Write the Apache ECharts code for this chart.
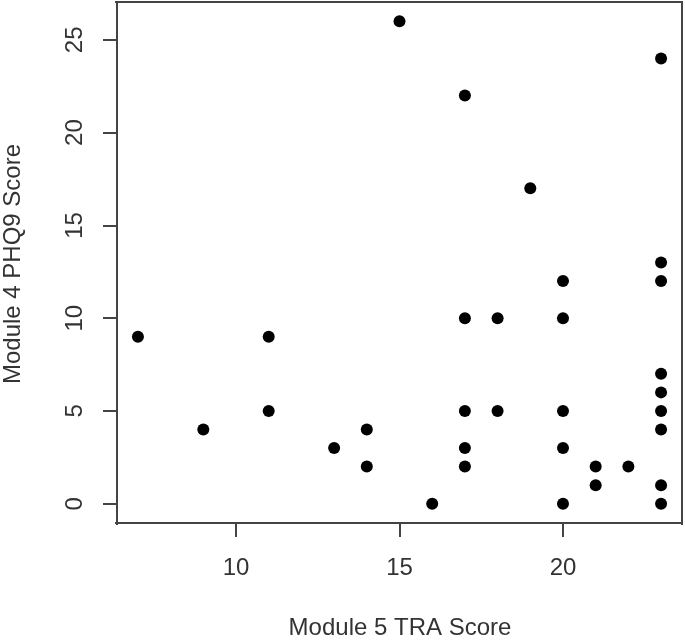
<!DOCTYPE html>
<html>
<head>
<meta charset="utf-8">
<script src="https://cdn.jsdelivr.net/npm/echarts@6/dist/echarts.min.js"></script>
<style>
html,body{margin:0;padding:0;background:#fff;}
#chart{width:685px;height:642px;}
</style>
</head>
<body>
<div id="chart"></div>
<script>
// Data
const traScore = [7, 9, 11, 11, 13, 14, 14, 15, 16, 17, 17, 17, 17, 17, 18, 18, 19, 20, 20, 20, 20, 20, 21, 21, 22, 23, 23, 23, 23, 23, 23, 23, 23, 23];
const phq9Score = [9, 4, 9, 5, 3, 4, 2, 26, 0, 22, 10, 5, 3, 2, 10, 5, 17, 12, 10, 5, 3, 0, 2, 1, 2, 24, 13, 12, 7, 6, 5, 4, 1, 0];
const xTickLabels = ['10', '15', '20'];
const yTickLabels = ['0', '5', '10', '15', '20', '25'];
const xTitle = 'Module 5 TRA Score';
const yTitle = 'Module 4 PHQ9 Score';

const points = traScore.map((x, i) => [x, phq9Score[i]]);

// R-style 4% range extension
function extRange(arr) {
  const mn = Math.min(...arr), mx = Math.max(...arr);
  const d = (mx - mn) * 0.04;
  return [mn - d, mx + d];
}
const xr = extRange(traScore);
const yr = extRange(phq9Score);

const FONT = '"Liberation Sans", Arial, sans-serif';
const TXT = '#333';
const LINE = '#444';

function fmt(labels) {
  return v => {
    const s = String(Math.round(v * 1000) / 1000);
    return labels.indexOf(s) >= 0 ? s : '';
  };
}

// white masks over the extent ticks at the box corners (R draws no ticks there)
const mask = (x, y, w, h) => ({type: 'rect', z: 100, silent: true, shape: {x, y, width: w, height: h}, style: {fill: '#fff'}});

const chart = echarts.init(document.getElementById('chart'), null, {renderer: 'canvas'});
chart.setOption({
  backgroundColor: '#fff',
  animation: false,
  grid: {
    left: 117, right: 3, top: 2, bottom: 119,
    outerBoundsMode: 'none',
    show: true, borderColor: LINE, borderWidth: 2
  },
  xAxis: {
    type: 'value', min: xr[0], max: xr[1], splitNumber: 3, position: 'bottom',
    axisLine: {show: true, onZero: false, lineStyle: {color: LINE, width: 2}},
    splitLine: {show: false},
    axisTick: {show: true, inside: false, length: 14, lineStyle: {color: LINE, width: 2}},
    axisLabel: {fontFamily: FONT, fontSize: 24, color: TXT, margin: 33, formatter: fmt(xTickLabels)}
  },
  yAxis: {
    type: 'value', min: yr[0], max: yr[1], splitNumber: 5, position: 'left',
    axisLine: {show: true, onZero: false, lineStyle: {color: LINE, width: 2}},
    splitLine: {show: false},
    axisTick: {show: true, inside: false, length: 14, lineStyle: {color: LINE, width: 2}},
    axisLabel: {fontFamily: FONT, fontSize: 24, color: TXT, margin: 30, rotate: 90, formatter: fmt(yTickLabels)}
  },
  graphic: [
    {type: 'text', x: 400, y: 628, silent: true,
     style: {text: xTitle, fontFamily: FONT, fontSize: 24, fill: TXT, align: 'center', verticalAlign: 'middle'}},
    {type: 'text', x: 13, y: 264, rotation: Math.PI / 2, silent: true,
     style: {text: yTitle, fontFamily: FONT, fontSize: 24, fill: TXT, align: 'center', verticalAlign: 'middle'}},
    mask(112, 525, 10, 14),
    mask(677, 525, 8, 14),
    mask(100, 518, 15, 8),
    mask(100, 0, 15, 6)
  ],
  series: [{
    type: 'scatter',
    data: points,
    symbol: 'circle',
    symbolSize: 12,
    itemStyle: {color: '#000', opacity: 1},
    silent: true
  }]
});
</script>
</body>
</html>
